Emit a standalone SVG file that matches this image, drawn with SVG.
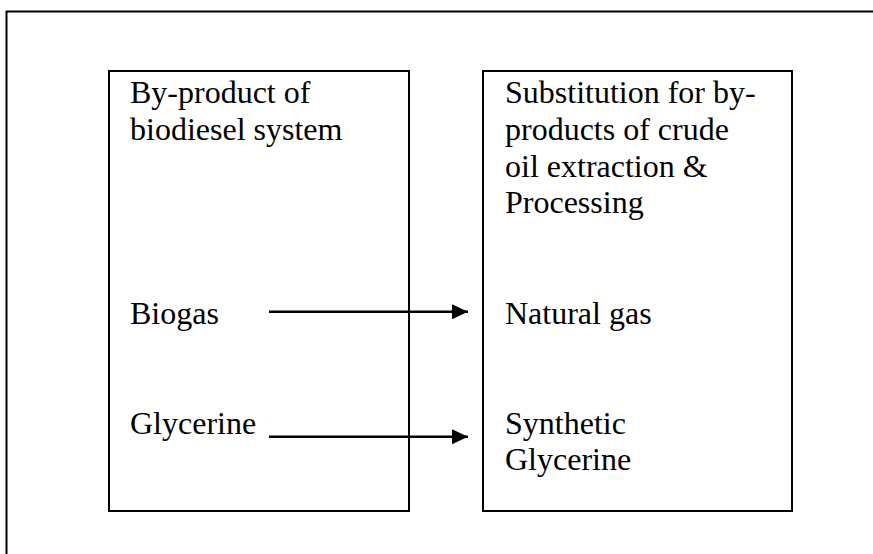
<svg xmlns="http://www.w3.org/2000/svg" width="873" height="554" viewBox="0 0 873 554">
<style>
.t{font-family:"Liberation Serif","Times New Roman",serif;font-size:32px;fill:#000}
.b{fill:none;stroke:#000;stroke-width:2}
.c{stroke:#000;stroke-width:2.5;fill:none}
</style>
<defs>
<marker id="ah" markerUnits="userSpaceOnUse" markerWidth="16" markerHeight="16" refX="16" refY="8" orient="auto">
<path d="M0,0.5 L16,8 L0,15.5 Z" fill="#000"/>
</marker>
</defs>
<rect width="873" height="554" fill="#fff"/>
<path class="b" d="M6.5,560 L6.5,11.5 L880,11.5"/>
<g id="left">
<rect class="b" x="109" y="71" width="300" height="440"/>
<text class="t" x="130" y="102.5">By-product of</text>
<text class="t" x="130" y="139.5">biodiesel system</text>
<text class="t" x="130" y="323.5">Biogas</text>
<text class="t" x="130" y="433.5">Glycerine</text>
</g>
<g id="right">
<rect class="b" x="483" y="71" width="309" height="440"/>
<text class="t" x="505" y="102.5">Substitution for by-</text>
<text class="t" x="505" y="139.5">products of crude</text>
<text class="t" x="505" y="176.5">oil extraction &amp;</text>
<text class="t" x="505" y="213">Processing</text>
<text class="t" x="505" y="323.5">Natural gas</text>
<text class="t" x="505" y="433.5">Synthetic</text>
<text class="t" x="505" y="469.5">Glycerine</text>
</g>
<g id="connectors">
<line class="c" x1="269" y1="311.7" x2="468" y2="311.7" marker-end="url(#ah)"/>
<line class="c" x1="269" y1="436.7" x2="468" y2="436.7" marker-end="url(#ah)"/>
</g>
</svg>
